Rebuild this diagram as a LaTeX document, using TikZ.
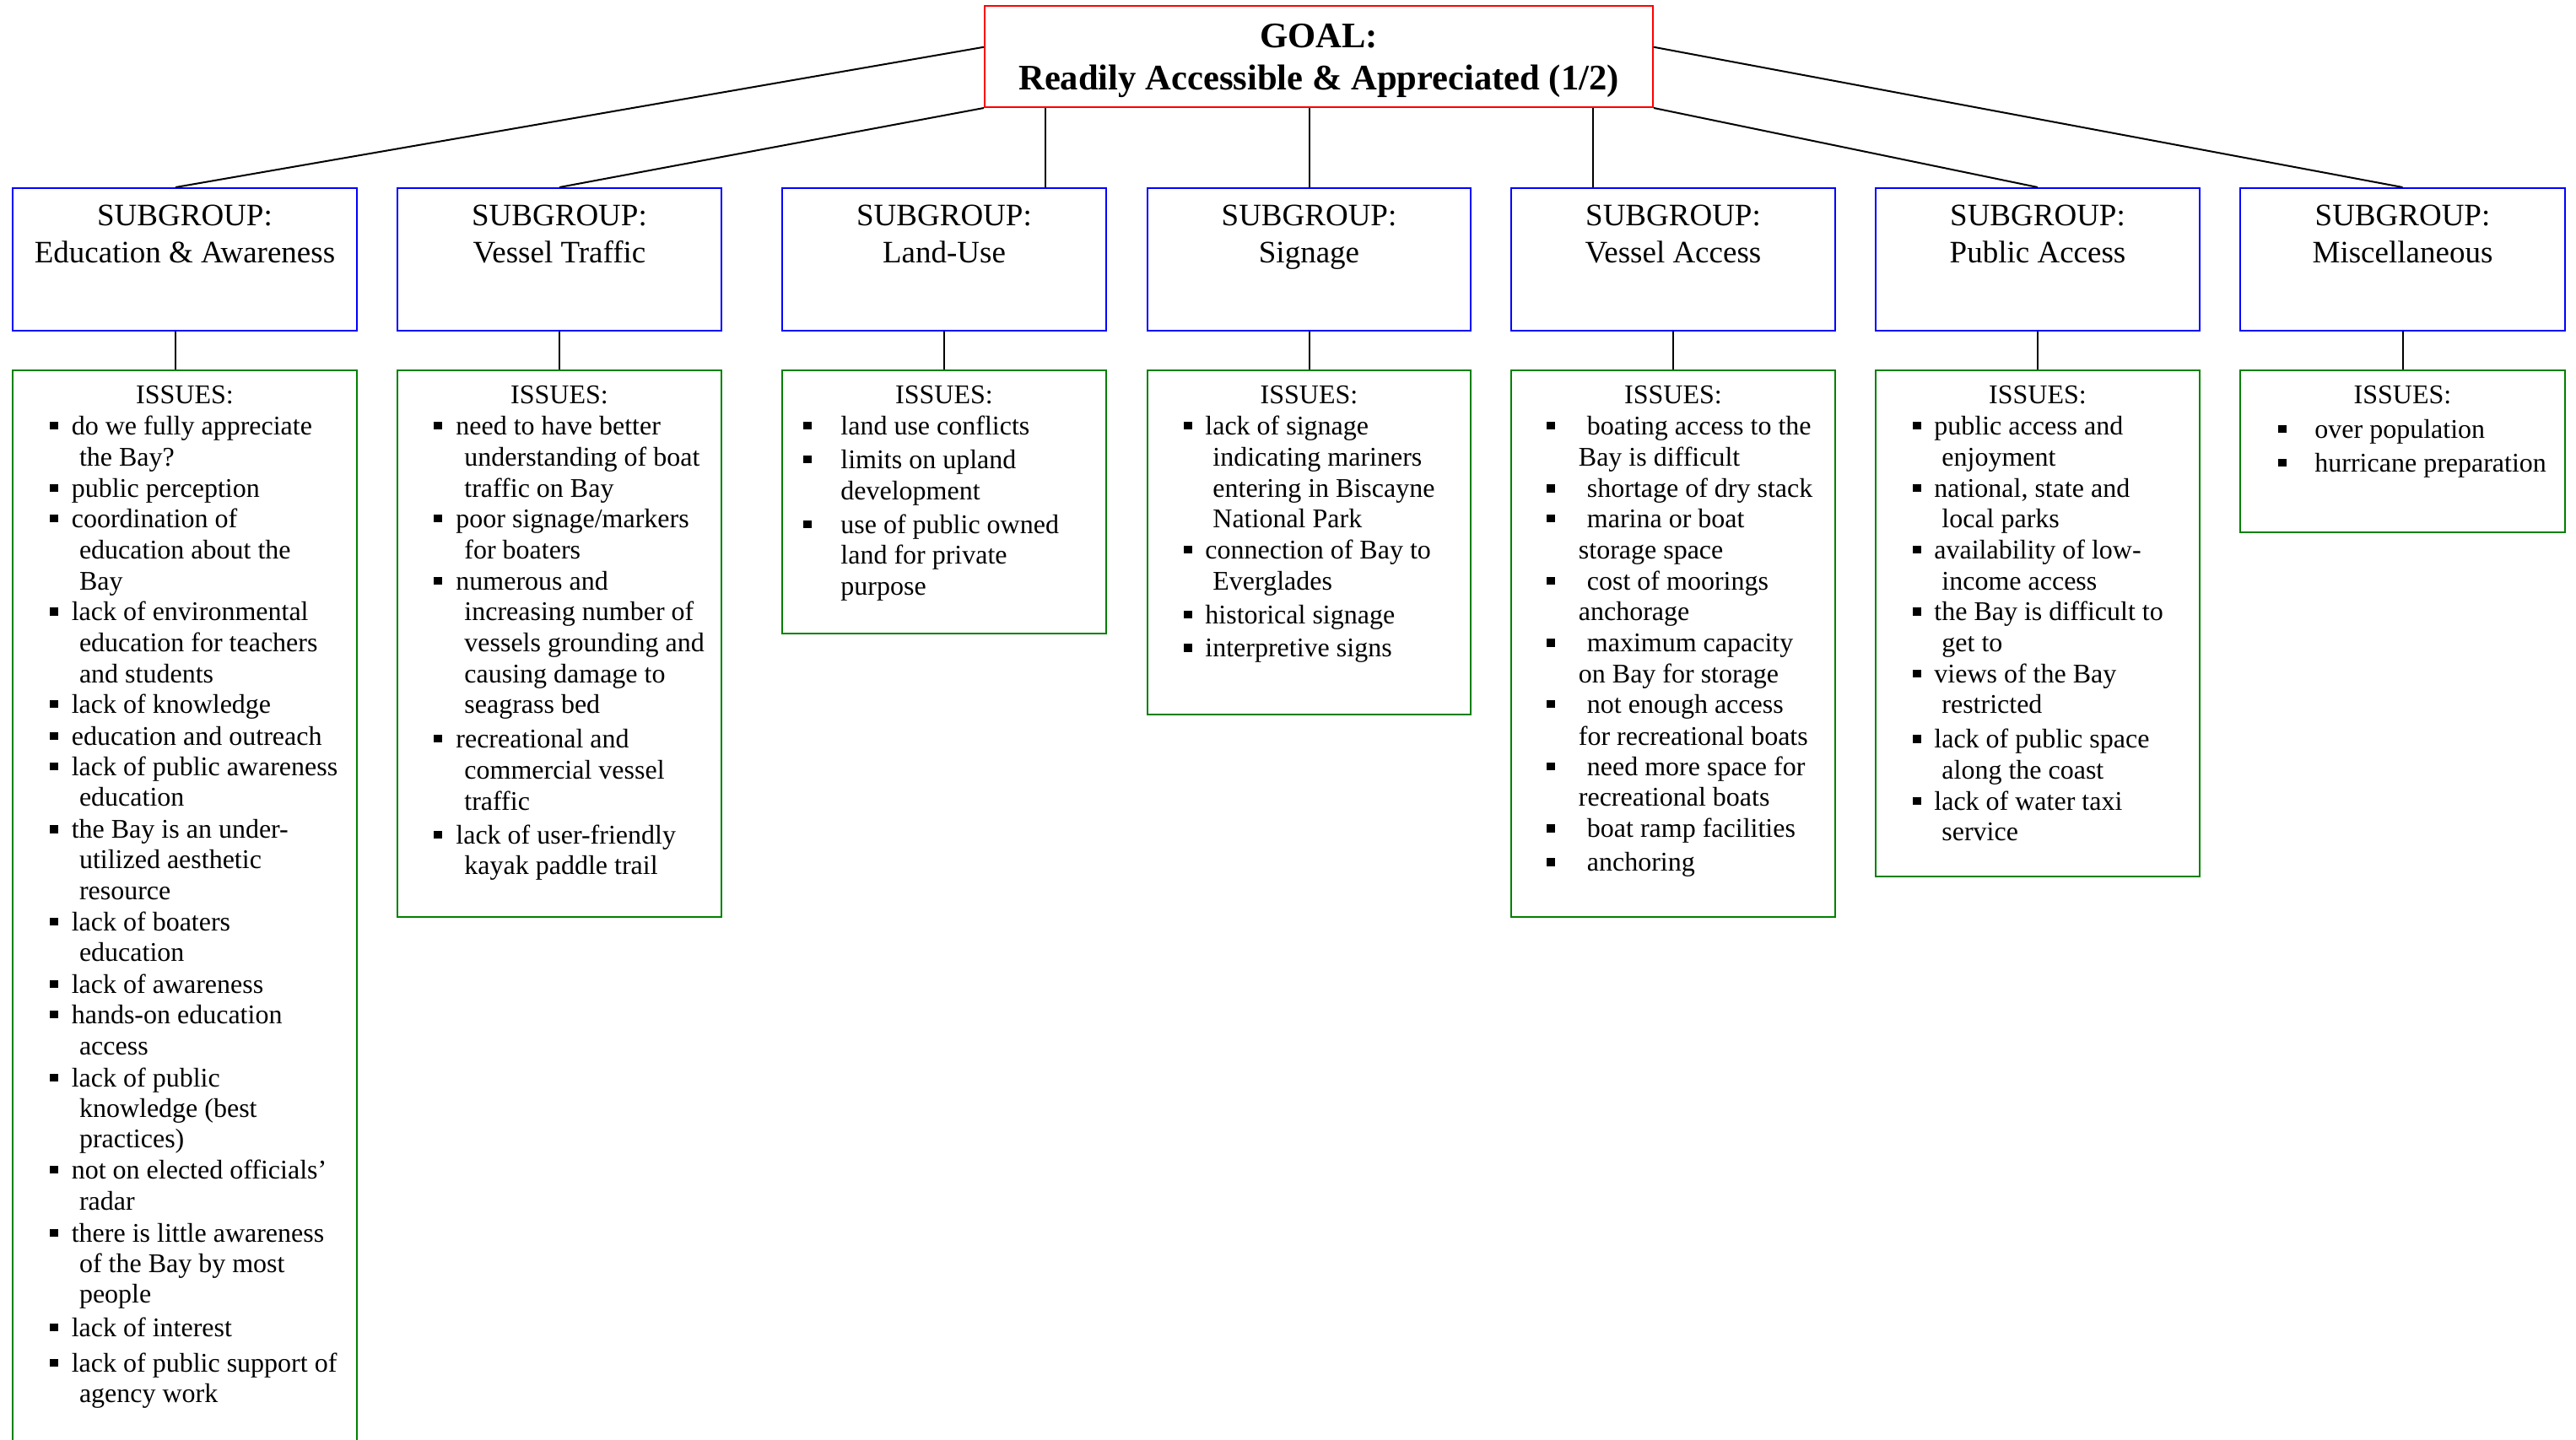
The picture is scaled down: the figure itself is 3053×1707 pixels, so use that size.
\documentclass[tikz,border=0pt]{standalone}
\usepackage{fontspec}
\setmainfont{Liberation Serif}
\usetikzlibrary{calc,fit}

\definecolor{goalred}{RGB}{255,0,0}
\definecolor{subblue}{RGB}{0,0,255}
\definecolor{issgreen}{RGB}{0,128,0}

\tikzset{
  box/.style={inner sep=0pt, line width=1pt},
  goalbox/.style={box, draw=goalred},
  subbox/.style={box, draw=subblue},
  issbox/.style={box, draw=issgreen},
  link/.style={line width=1pt, black},
  drop/.style={line width=1pt, black},
  goaltext/.style={inner sep=0pt, font=\fontsize{21.3}{25}\selectfont\bfseries},
  subtext/.style={inner sep=0pt, font=\fontsize{18.5}{22}\selectfont},
  isstext/.style={inner sep=0pt, font=\fontsize{16}{18.5}\selectfont},
}

% #1 name prefix, #2 bullet x, #3 first-line text x, #4 continuation x,
% #5 entries kind/baseline/text (b = bulleted line, c = continuation)
\newcommand\bulletlist[5]{%
  \foreach \kind/\yy/\txt [count=\n] in {#5}{%
    \if b\kind
      \fill (#2,\yy-6) rectangle (#2+9.5,\yy-15.5);
      \node[isstext, anchor=base west] (#1-\n) at (#3,\yy) {\txt};
    \else
      \node[isstext, anchor=base west] (#1-\n) at (#4,\yy) {\txt};
    \fi
  }%
}

\begin{document}
\begin{tikzpicture}[x=0.5pt, y=-0.5pt]
\useasboundingbox (0,0) rectangle (3053,1707);
\fill[white] (0,0) rectangle (3053,1707);
\clip (0,0) rectangle (3053,1707);

% goal
\node[goalbox, fit={(1167,7) (1959,127)}] (goal) {};
\node[goaltext, anchor=base] (goal-l1) at (1563,57) {GOAL:};
\node[goaltext, anchor=base] (goal-l2) at (1563,107) {Readily Accessible \& Appreciated (1/2)};

% subgroups and their issue boxes
\foreach \i/\l/\r/\b/\name in {
    1/15/423/1760/Education \& Awareness,
    2/471/855/1087/Vessel Traffic,
    3/927/1311/751/Land-Use,
    4/1360/1743/847/Signage,
    5/1791/2175/1087/Vessel Access,
    6/2223/2607/1039/Public Access,
    7/2655/3040/631/Miscellaneous}{
  \node[subbox, fit={(\l,223) (\r,392)}] (sub\i) {};
  \node[subtext, anchor=base] (sub\i-l1) at ({(\l+\r)/2},267) {SUBGROUP:};
  \node[subtext, anchor=base] (sub\i-l2) at ({(\l+\r)/2},311) {\name};
  \node[issbox, fit={(\l,439) (\r,\b)}] (iss\i) {};
  \node[isstext, anchor=base] (iss\i-head) at ({(\l+\r)/2},478) {ISSUES:};
}

% connectors from the goal
\draw[link] ($(goal.north west)!0.408!(goal.south west)$) -- ($(sub1.north)+(-11,0)$);
\draw[link] (goal.south west) -- (sub2.north);
\coordinate (t3) at ($(sub3.north)+(120,0)$);
\draw[drop] (goal.south -| t3) -- (t3);
\draw[drop] (goal.south -| sub4.north) -- (sub4.north);
\coordinate (t5) at ($(sub5.north)+(-95,0)$);
\draw[drop] (goal.south -| t5) -- (t5);
\draw[link] (goal.south east) -- (sub6.north);
\draw[link] ($(goal.north east)!0.408!(goal.south east)$) -- (sub7.north);

% subgroup to issues
\draw[drop] ($(sub1.south)+(-11,0)$) -- ($(iss1.north)+(-11,0)$);
\foreach \i in {2,...,7}{
  \draw[drop] (sub\i.south) -- (iss\i.north);
}

% issue lists
\bulletlist{e}{59}{84.4}{93.6}{
  b/515/do we fully appreciate,
  c/552.6/the Bay?,
  b/589/public perception,
  b/625/coordination of,
  c/662/education about the,
  c/699/Bay,
  b/735.6/lack of environmental,
  c/772.7/education for teachers,
  c/809/and students,
  b/845/lack of knowledge,
  b/883/education and outreach,
  b/919/lack of public awareness,
  c/955.7/education,
  b/993.7/the Bay is an under-,
  c/1029/utilized aesthetic,
  c/1066/resource,
  b/1103/lack of boaters,
  c/1139/education,
  b/1177/lack of awareness,
  b/1213/hands-on education,
  c/1250/access,
  b/1288/lack of public,
  c/1324/knowledge (best,
  c/1360/practices),
  b/1397/not on elected officials’,
  c/1434/radar,
  b/1472/there is little awareness,
  c/1508/of the Bay by most,
  c/1544/people,
  b/1584/lack of interest,
  b/1626/lack of public support of,
  c/1662/agency work}

\bulletlist{v}{514}{540}{550}{
  b/515/need to have better,
  c/552.6/understanding of boat,
  c/589/traffic on Bay,
  b/625/{poor signage/markers},
  c/662/for boaters,
  b/699/numerous and,
  c/735.6/increasing number of,
  c/772.7/vessels grounding and,
  c/809/causing damage to,
  c/845/seagrass bed,
  b/886/recreational and,
  c/923/commercial vessel,
  c/960/traffic,
  b/1000/lack of user-friendly,
  c/1036/kayak paddle trail}

\bulletlist{l}{952}{996}{996}{
  b/515/land use conflicts,
  b/555/limits on upland,
  c/592/development,
  b/632/use of public owned,
  c/668.7/land for private,
  c/705.7/purpose}

\bulletlist{s}{1403}{1428}{1437}{
  b/515/lack of signage,
  c/552.6/indicating mariners,
  c/589/entering in Biscayne,
  c/625/National Park,
  b/662/connection of Bay to,
  c/699/Everglades,
  b/739/historical signage,
  b/778.5/interpretive signs}

\bulletlist{a}{1833}{1880.5}{1870.5}{
  b/515/boating access to the,
  c/552.6/Bay is difficult,
  b/589.6/shortage of dry stack,
  b/625/marina or boat,
  c/662/storage space,
  b/699/cost of moorings,
  c/735.6/anchorage,
  b/772.7/maximum capacity,
  c/809/on Bay for storage,
  b/845/not enough access,
  c/883/for recreational boats,
  b/919/need more space for,
  c/955.7/recreational boats,
  b/992.8/boat ramp facilities,
  b/1032.5/anchoring}

\bulletlist{p}{2267}{2292}{2301}{
  b/515/public access and,
  c/552.6/enjoyment,
  b/589/{national, state and},
  c/625/local parks,
  b/662/availability of low-,
  c/699/income access,
  b/735.6/the Bay is difficult to,
  c/772.7/get to,
  b/809/views of the Bay,
  c/845/restricted,
  b/886.5/lack of public space,
  c/923/along the coast,
  b/960/lack of water taxi,
  c/996.8/service}

\bulletlist{m}{2700}{2743}{2743}{
  b/519/over population,
  b/559/hurricane preparation}

\end{tikzpicture}
\end{document}
